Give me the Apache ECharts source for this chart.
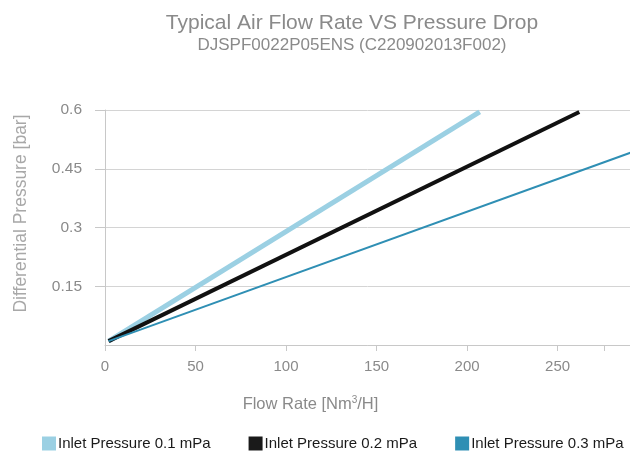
<!DOCTYPE html>
<html>
<head>
<meta charset="utf-8">
<script src="https://cdn.jsdelivr.net/npm/echarts@6/dist/echarts.min.js"></script>
<style>html,body{margin:0;padding:0;background:#fff}#c{width:630px;height:455px}</style>
</head>
<body>
<div id="c"></div>
<script>
var titleText = 'Typical Air Flow Rate VS Pressure Drop';
var subtitleText = 'DJSPF0022P05ENS (C220902013F002)';
var seriesNames = ['Inlet Pressure 0.1 mPa', 'Inlet Pressure 0.2 mPa', 'Inlet Pressure 0.3 mPa'];
var flow01 = [2, 207];
var dp01 = [0.01, 0.595];
var flow02 = [2, 262];
var dp02 = [0.01, 0.595];
var flow03 = [2, 292];
var dp03 = [0.01, 0.494];
var xTicks = [0, 50, 100, 150, 200, 250];
var xTickMarks = [0, 50, 100, 150, 200, 250, 276];

function pairs(xs, ys) { return xs.map(function (x, i) { return [x, ys[i]]; }); }

var chart = echarts.init(document.getElementById('c'));
var font = 'Liberation Sans, Arial, sans-serif';
chart.setOption({
  animation: false,
  textStyle: { fontFamily: font },
  title: {
    text: titleText,
    subtext: subtitleText,
    left: 347, textAlign: 'center', top: 8,
    itemGap: 3,
    textStyle: { fontSize: 21, fontWeight: 'normal', color: '#8a8a8a', fontFamily: font },
    subtextStyle: { fontSize: 17, color: '#8a8a8a', fontFamily: font }
  },
  grid: { left: 105, right: 0, top: 110, bottom: 110, containLabel: false },
  legend: {
    top: 431, left: 37,
    icon: 'rect', itemWidth: 14, itemHeight: 14, itemGap: 38,
    textStyle: { fontSize: 15, color: '#1a1a1a', fontFamily: font, padding: [0, 0, 0, -3] },
    data: seriesNames
  },
  xAxis: {
    type: 'value', min: 0, max: 290, interval: 50,
    name: '{a|Flow Rate [Nm}{s|3}{a|/H]}', nameLocation: 'middle', nameGap: 50,
    nameTextStyle: {
      color: '#8a8a8a', fontFamily: font, padding: [0, 114, 0, 0],
      rich: {
        a: { fontSize: 16.5, color: '#8a8a8a', fontFamily: font },
        s: { fontSize: 10, color: '#8a8a8a', fontFamily: font, verticalAlign: 'top', padding: [0, 0, 8, 0] }
      }
    },
    axisLine: { show: true, lineStyle: { color: '#c8c8c8', width: 1 } },
    axisTick: { show: true, length: 6, lineStyle: { color: '#c8c8c8' }, customValues: xTickMarks },
    axisLabel: { fontSize: 15, color: '#8a8a8a', margin: 14, customValues: xTicks },
    splitLine: { show: false }
  },
  yAxis: {
    type: 'value', min: 0, max: 0.6, interval: 0.15,
    name: 'Differential Pressure [bar]', nameLocation: 'middle', nameGap: 75,
    nameTextStyle: { fontSize: 17.5, color: '#a8a8a8', fontFamily: font, padding: [0, 0, 0, 28] },
    axisLine: { show: true, lineStyle: { color: '#c8c8c8', width: 1 } },
    axisTick: { show: true, length: 10, lineStyle: { color: '#c8c8c8' } },
    axisLabel: { fontSize: 15.5, color: '#8a8a8a', margin: 23, showMinLabel: false },
    splitLine: { show: true, lineStyle: { color: '#d4d4d4', width: 1 } }
  },
  series: [
    { name: seriesNames[0], type: 'line', data: pairs(flow01, dp01), symbol: 'none',
      lineStyle: { color: '#9bd0e3', width: 5 }, itemStyle: { color: '#9bd0e3' }, z: 2 },
    { name: seriesNames[1], type: 'line', data: pairs(flow02, dp02), symbol: 'none',
      lineStyle: { color: '#111111', width: 4 }, itemStyle: { color: '#1a1a1a' }, z: 3 },
    { name: seriesNames[2], type: 'line', data: pairs(flow03, dp03), symbol: 'none',
      lineStyle: { color: '#2f8fb4', width: 2 }, itemStyle: { color: '#2f8fb4' }, z: 4 }
  ]
});
</script>
</body>
</html>
